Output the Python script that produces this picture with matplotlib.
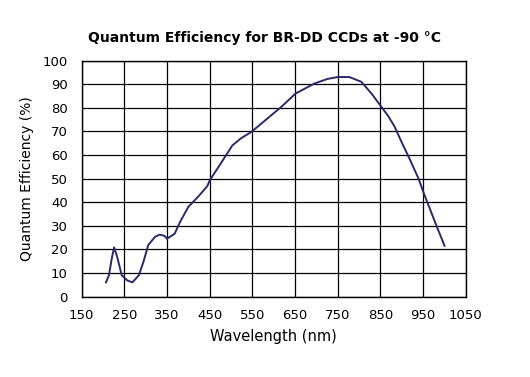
import numpy as np
import matplotlib.pyplot as plt

# wavelength (nm) and quantum efficiency (%)
wavelength = [207, 214, 220, 226, 233, 244, 257, 269, 284, 295, 306, 322, 333, 344,
              350, 368, 380, 400, 424, 444, 451, 471, 503, 523, 548, 581, 618, 651, 696,
              726, 750, 777, 805, 829, 852, 868, 883, 898, 919, 939, 952, 965, 980, 1000]
qe = [6.0, 9.0, 15.5, 20.8, 17.0, 9.0, 6.8, 6.0, 9.0, 14.8, 21.8, 25.3, 26.2, 25.7,
      24.5, 26.6, 31.4, 38.0, 42.5, 46.7, 49.5, 55.0, 64.0, 67.0, 69.8, 74.8, 80.4, 86.0,
      90.3, 92.2, 93.0, 93.0, 91.0, 86.0, 80.4, 76.5, 72.0, 66.0, 58.0, 50.0, 43.5,
      37.5, 30.5, 21.5]

x_ticks = list(range(150, 1051, 100))
y_ticks = list(range(0, 101, 10))

fig = plt.figure(figsize=(5.3, 3.77), dpi=100)
ax = fig.add_axes([0.154, 0.2135, 0.725, 0.626])

ax.plot(wavelength, qe, color="#2a2a68", linewidth=1.4, zorder=3,
        solid_joinstyle="round")

ax.set_xlim(150, 1050)
ax.set_ylim(0, 100)
ax.set_xticks(x_ticks)
ax.set_yticks(y_ticks)
ax.grid(True, color="black", linewidth=0.9)
ax.tick_params(length=0, labelsize=9.5, pad=9)
ax.tick_params(axis="y", pad=10)
for s in ax.spines.values():
    s.set_linewidth(1.0)

ax.set_xlabel("Wavelength (nm)", fontsize=10.5, labelpad=5)
ax.set_ylabel("Quantum Efficiency (%)", fontsize=10, labelpad=6)
fig.text(0.5, 0.9, "Quantum Efficiency for BR-DD CCDs at -90 °C",
         ha="center", va="center", fontsize=10, fontweight="bold")

plt.savefig("out.png", dpi=100)
